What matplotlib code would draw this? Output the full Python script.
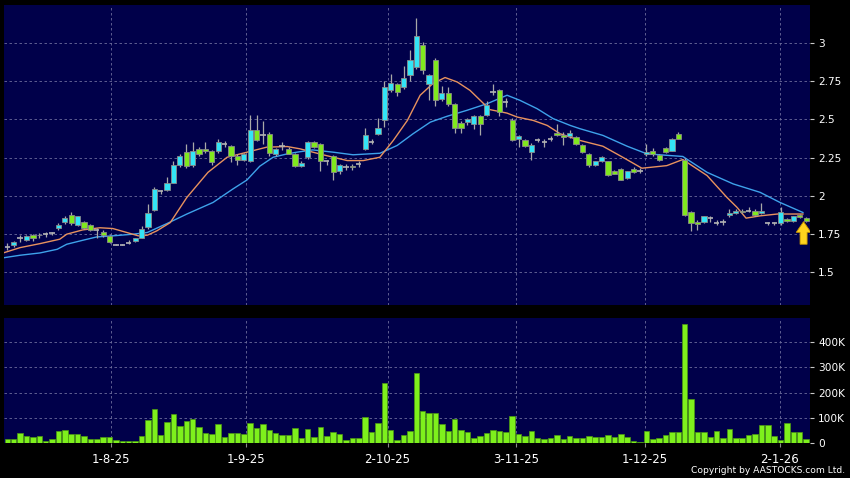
import numpy as np
import matplotlib
matplotlib.use('Agg')
import matplotlib.pyplot as plt
from matplotlib.patches import FancyArrow

# 日K数据 (开, 高, 低, 收) 由图读取
opens = [1.665, 1.675, 1.72, 1.713, 1.745, 1.74, 1.748, 1.755, 1.79, 1.83,
         1.873, 1.81, 1.827, 1.808, 1.774, 1.76, 1.735, 1.68, 1.68, 1.693,
         1.704, 1.726, 1.796, 1.906, 2.028, 2.037, 2.084, 2.202, 2.285, 2.202,
         2.307, 2.307, 2.29, 2.29, 2.34, 2.324, 2.258, 2.237, 2.23, 2.432,
         2.40, 2.406, 2.274, 2.324, 2.307, 2.27, 2.197, 2.252, 2.35, 2.336,
         2.226, 2.257, 2.164, 2.19, 2.197, 2.21, 2.307, 2.355, 2.406, 2.498,
         2.695, 2.73, 2.713, 2.789, 2.844, 2.987, 2.73, 2.888, 2.636, 2.673,
         2.60, 2.477, 2.482, 2.467, 2.52, 2.526, 2.68, 2.695, 2.614, 2.498,
         2.373, 2.366, 2.285, 2.362, 2.35, 2.373, 2.41, 2.40, 2.388, 2.384,
         2.333, 2.274, 2.202, 2.226, 2.226, 2.164, 2.176, 2.116, 2.176, 2.164,
         2.274, 2.29, 2.268, 2.314, 2.296, 2.406, 2.235, 1.89, 1.83, 1.825,
         1.853, 1.824, 1.83, 1.873, 1.886, 1.90, 1.897, 1.90, 1.886, 1.82,
         1.82, 1.824, 1.847, 1.836, 1.875, 1.853]
highs = [1.69, 1.705, 1.745, 1.745, 1.75, 1.755, 1.76, 1.765, 1.82, 1.865,
         1.89, 1.87, 1.835, 1.815, 1.79, 1.775, 1.74, 1.685, 1.685, 1.71,
         1.725, 1.80, 1.945, 2.06, 2.04, 2.12, 2.23, 2.27, 2.34, 2.35,
         2.32, 2.35, 2.30, 2.37, 2.36, 2.335, 2.27, 2.28, 2.526, 2.526,
         2.49, 2.42, 2.31, 2.35, 2.32, 2.28, 2.23, 2.36, 2.36, 2.345,
         2.235, 2.265, 2.21, 2.21, 2.21, 2.225, 2.445, 2.37, 2.507, 2.752,
         2.796, 2.74, 2.849, 2.954, 3.162, 3.01, 2.80, 2.90, 2.717, 2.71,
         2.61, 2.49, 2.51, 2.53, 2.53, 2.62, 2.73, 2.70, 2.64, 2.51,
         2.40, 2.37, 2.345, 2.375, 2.37, 2.39, 2.47, 2.42, 2.43, 2.39,
         2.34, 2.28, 2.23, 2.26, 2.23, 2.17, 2.18, 2.165, 2.185, 2.18,
         2.34, 2.31, 2.275, 2.32, 2.38, 2.415, 2.25, 1.90, 1.84, 1.87,
         1.87, 1.84, 1.845, 1.91, 1.91, 1.91, 1.925, 1.91, 1.95, 1.83,
         1.83, 1.928, 1.855, 1.87, 1.88, 1.86]
lows = [1.645, 1.665, 1.70, 1.705, 1.705, 1.72, 1.73, 1.74, 1.775, 1.815,
        1.81, 1.80, 1.78, 1.77, 1.72, 1.73, 1.69, 1.675, 1.675, 1.685,
        1.695, 1.72, 1.785, 1.90, 2.01, 2.03, 2.08, 2.19, 2.18, 2.19,
        2.26, 2.28, 2.20, 2.28, 2.32, 2.22, 2.20, 2.225, 2.22, 2.36,
        2.34, 2.26, 2.26, 2.30, 2.27, 2.19, 2.19, 2.24, 2.31, 2.16,
        2.20, 2.10, 2.14, 2.17, 2.17, 2.19, 2.30, 2.34, 2.40, 2.45,
        2.68, 2.65, 2.70, 2.75, 2.83, 2.80, 2.63, 2.59, 2.62, 2.59,
        2.41, 2.41, 2.46, 2.44, 2.395, 2.52, 2.66, 2.52, 2.58, 2.36,
        2.32, 2.32, 2.235, 2.35, 2.32, 2.36, 2.39, 2.33, 2.38, 2.33,
        2.28, 2.19, 2.195, 2.22, 2.13, 2.14, 2.10, 2.11, 2.15, 2.15,
        2.26, 2.26, 2.23, 2.28, 2.29, 2.37, 1.87, 1.77, 1.774, 1.82,
        1.83, 1.81, 1.81, 1.86, 1.88, 1.885, 1.89, 1.87, 1.88, 1.81,
        1.81, 1.81, 1.83, 1.83, 1.855, 1.83]
closes = [1.665, 1.70, 1.72, 1.735, 1.72, 1.745, 1.748, 1.755, 1.81, 1.853,
          1.818, 1.866, 1.79, 1.776, 1.774, 1.74, 1.698, 1.68, 1.68, 1.693,
          1.726, 1.785, 1.886, 2.044, 2.028, 2.084, 2.202, 2.257, 2.193, 2.296,
          2.274, 2.29, 2.224, 2.353, 2.34, 2.257, 2.237, 2.27, 2.432, 2.366,
          2.40, 2.278, 2.307, 2.324, 2.274, 2.197, 2.217, 2.35, 2.317, 2.226,
          2.226, 2.158, 2.204, 2.19, 2.186, 2.21, 2.395, 2.355, 2.445, 2.709,
          2.735, 2.676, 2.774, 2.888, 3.046, 2.822, 2.789, 2.625, 2.673, 2.603,
          2.445, 2.445, 2.505, 2.52, 2.467, 2.597, 2.68, 2.548, 2.614, 2.366,
          2.393, 2.324, 2.333, 2.362, 2.35, 2.373, 2.395, 2.384, 2.41, 2.336,
          2.285, 2.204, 2.226, 2.252, 2.136, 2.143, 2.103, 2.16, 2.158, 2.164,
          2.285, 2.27, 2.237, 2.287, 2.373, 2.373, 1.875, 1.824, 1.814, 1.868,
          1.853, 1.824, 1.83, 1.886, 1.897, 1.89, 1.897, 1.875, 1.897, 1.82,
          1.82, 1.89, 1.836, 1.864, 1.862, 1.836]

# 成交量 (千股)
volumes = [16, 17, 40, 29, 24, 28, 9, 15, 47, 53,
           35, 37, 27, 17, 16, 23, 23, 13, 7, 7,
           9, 28, 93, 136, 32, 84, 117, 69, 89, 97,
           64, 39, 36, 76, 25, 40, 40, 37, 81, 60,
           76, 53, 40, 33, 33, 60, 19, 56, 23, 65,
           27, 45, 35, 13, 19, 21, 105, 43, 81, 237,
           52, 13, 32, 48, 276, 128, 120, 120, 76, 49,
           96, 52, 43, 19, 29, 39, 53, 47, 45, 108,
           37, 29, 48, 21, 16, 21, 33, 16, 29, 20,
           21, 29, 24, 24, 32, 24, 35, 23, 9, 5,
           47, 16, 21, 33, 43, 43, 472, 175, 44, 44,
           25, 48, 20, 57, 20, 20, 33, 36, 71, 73,
           27, 13, 81, 45, 45, 15]

# 均线 (按K线序号读点)
ma10_x = [-0.5, 2.0, 5.1, 8.2, 9.3, 11.8, 14.5, 16.5, 18.7, 20.5, 21.9, 23.4,
          25.5, 28.1, 31.4, 34.4, 37.5, 40.6, 43.8, 45.8, 49.4, 53.2, 55.7,
          58.3, 60.4, 62.6, 64.6, 66.6, 68.5, 70.4, 72.4, 74.0, 75.5, 78.2,
          79.8, 82.3, 84.5, 86.5, 89.6, 93.2, 96.3, 99.3, 103.2, 105.7, 109.5,
          112.6, 114.2, 115.6, 117.8, 120.5, 124.5]
ma10 = [1.627, 1.66, 1.686, 1.715, 1.748, 1.776, 1.79, 1.785, 1.759, 1.737,
        1.741, 1.77, 1.824, 1.989, 2.153, 2.252, 2.285, 2.318, 2.322, 2.307,
        2.268, 2.23, 2.23, 2.252, 2.362, 2.493, 2.658, 2.735, 2.774, 2.745,
        2.69, 2.625, 2.564, 2.541, 2.515, 2.493, 2.46, 2.406, 2.362, 2.324,
        2.252, 2.18, 2.197, 2.237, 2.132, 1.989, 1.923, 1.853, 1.868, 1.88, 1.88]
ma20_x = [-0.5, 2.0, 5.1, 7.8, 9.3, 11.8, 14.0, 16.5, 19.7, 21.9, 25.0, 28.1,
          32.2, 35.3, 37.5, 39.5, 41.6, 43.8, 45.3, 47.8, 51.0, 54.1, 58.3,
          61.0, 63.5, 66.2, 68.8, 71.9, 75.1, 78.2, 80.2, 82.9, 85.4, 88.1,
          89.6, 93.2, 97.0, 100.1, 103.7, 105.7, 109.5, 113.6, 117.8, 120.9, 124.5]
ma20 = [1.594, 1.61, 1.625, 1.649, 1.682, 1.708, 1.73, 1.737, 1.748, 1.759,
        1.818, 1.88, 1.956, 2.044, 2.103, 2.193, 2.252, 2.274, 2.285, 2.30,
        2.285, 2.268, 2.278, 2.329, 2.406, 2.482, 2.52, 2.559, 2.603, 2.658,
        2.625, 2.57, 2.505, 2.46, 2.439, 2.395, 2.324, 2.274, 2.263, 2.257,
        2.153, 2.077, 2.022, 1.956, 1.89]

date_pos = [16.2, 37.4, 59.5, 79.6, 99.8, 120.9]
date_labels = ['1-8-25', '1-9-25', '2-10-25', '3-11-25', '1-12-25', '2-1-26']
price_ticks = [1.5, 1.75, 2, 2.25, 2.5, 2.75, 3]
price_labels = ['1.5', '1.75', '2', '2.25', '2.5', '2.75', '3']
vol_ticks = [0, 100, 200, 300, 400]
vol_labels = ['0', '100K', '200K', '300K', '400K']

# 颜色
bg = '#00004a'
up_c = '#33e4f6'
dn_c = '#80e81e'
doji_c = '#b4b4b4'
grid_c = '#6c6c9c'

o = np.array(opens); h = np.array(highs); l = np.array(lows); c = np.array(closes)
x = np.arange(len(o))

fig = plt.figure(figsize=(8.5, 4.78), dpi=100, facecolor='black')
ax1 = fig.add_axes([0.0047, 0.3619, 0.9482, 0.6276], facecolor=bg)
ax2 = fig.add_axes([0.0047, 0.0732, 0.9482, 0.2615], facecolor=bg)

# 网格
for ax in (ax1, ax2):
    for p in date_pos:
        ax.axvline(p, color=grid_c, lw=0.6, ls=(0, (3, 3)), zorder=0)
for t in price_ticks:
    ax1.axhline(t, color=grid_c, lw=0.6, ls=(0, (3, 3)), zorder=0)
for t in vol_ticks[1:]:
    ax2.axhline(t, color=grid_c, lw=0.6, ls=(0, (3, 3)), zorder=0)

# 均线
ax1.plot(ma20_x, ma20, color='#3ea2ea', lw=1.0, zorder=2)
ax1.plot(ma10_x, ma10, color='#e8925e', lw=1.0, zorder=2)

# K线
w = 0.82
ax1.vlines(x, l, h, color='#a8a8a8', lw=0.9, zorder=3)
up = c > o
dn = c < o
eq = c == o
ax1.bar(x[up], (c - o)[up], bottom=o[up], width=w, color=up_c,
        edgecolor='#8a8a8a', linewidth=0.6, zorder=4)
ax1.bar(x[dn], (o - c)[dn], bottom=c[dn], width=w, color=dn_c,
        edgecolor='#8a8a8a', linewidth=0.6, zorder=4)
ax1.hlines(c[eq], x[eq] - w / 2, x[eq] + w / 2, color=doji_c, lw=1.2, zorder=4)

# 黄色箭头 (最后一根)
ax1.add_patch(FancyArrow(x[-1] - 0.4, 1.682, 0, 0.078, width=1.1, head_width=2.3,
                         head_length=0.07, length_includes_head=False,
                         facecolor='#ffd21e', edgecolor='#c89400', lw=0.6, zorder=6))

# 成交量
ax2.bar(x, volumes, width=0.86, color='#7ef01c', edgecolor='#4c9a12',
        linewidth=0.5, zorder=3)

ax1.set_xlim(-0.52, 125.6)
ax2.set_xlim(-0.52, 125.6)
ax1.set_ylim(1.284, 3.249)
ax2.set_ylim(0, 496)

for ax in (ax1, ax2):
    for s in ax.spines.values():
        s.set_visible(False)
    ax.yaxis.tick_right()
    ax.tick_params(axis='y', colors='#c8c8c8', length=3, width=0.8, pad=3,
                   labelcolor='white', labelsize=7.6)

ax1.set_yticks(price_ticks, labels=price_labels)
ax2.set_yticks(vol_ticks, labels=vol_labels)
ax1.set_xticks([])
ax2.set_xticks(date_pos, labels=date_labels)
ax2.tick_params(axis='x', colors='#8a8a8a', length=3, width=0.8, pad=4,
                labelcolor='white', labelsize=8.5)

fig.text(0.994, 0.006, 'Copyright by AASTOCKS.com Ltd.', color='white',
         fontsize=6.6, ha='right', va='bottom')

plt.savefig('out.png', dpi=100, facecolor='black')
